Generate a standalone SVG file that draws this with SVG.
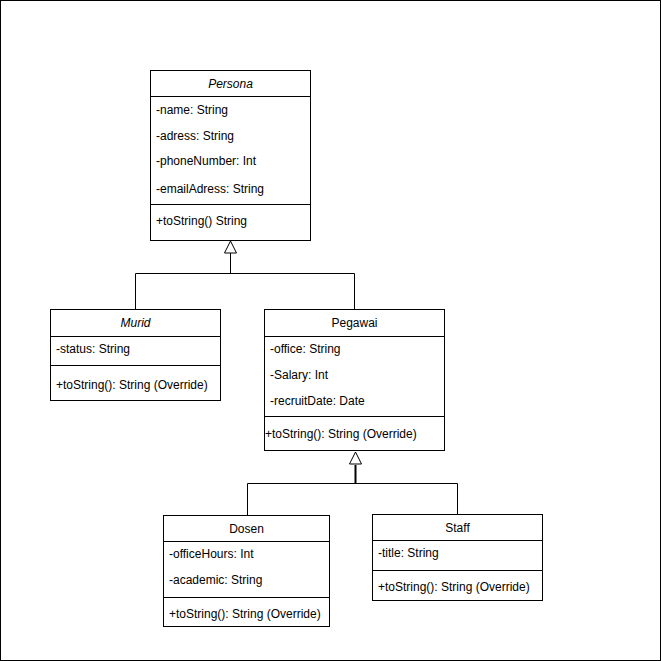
<svg xmlns="http://www.w3.org/2000/svg" width="661" height="661" viewBox="0 0 661 661">
<style>
.box{fill:#fff;stroke:#000;stroke-width:1}
.ln{stroke:#000;stroke-width:1;fill:none}
text{font-family:"Liberation Sans",Arial,sans-serif;font-size:12px;fill:#000}
.t{text-anchor:middle}
.i{font-style:italic}
.tri{fill:#fff;stroke:#000;stroke-width:1}
</style>
<rect x="0.5" y="0.5" width="660" height="660" fill="#fff" stroke="#000"/>
<g id="connectors">
<path class="ln" d="M230.5 253 V273.5 M135.5 309 V273.5 H354.5 V309"/>
<polygon class="tri" points="230.5,241 224.5,253 236.5,253"/>
<path class="ln" d="M355.5 465 V483" style="stroke-width:2"/>
<path class="ln" d="M247.5 515 V483.5 H457.5 V514"/>
<polygon class="tri" points="355.5,452 349.5,464 361.5,464"/>
</g>
<g id="Persona">
<rect class="box" x="150.5" y="70.5" width="160" height="170"/>
<path class="ln" d="M150.5 96.5 H310.5 M150.5 204.5 H310.5"/>
<text class="t i" x="230.5" y="88">Persona</text>
<text x="156" y="114">-name: String</text>
<text x="156" y="140">-adress: String</text>
<text x="156" y="165">-phoneNumber: Int</text>
<text x="156" y="193">-emailAdress: String</text>
<text x="156" y="225">+toString() String</text>
</g>
<g id="Murid">
<rect class="box" x="50.5" y="309.5" width="170" height="91"/>
<path class="ln" d="M50.5 336.5 H220.5 M50.5 365.5 H220.5"/>
<text class="t i" x="135.5" y="327">Murid</text>
<text x="56" y="353">-status: String</text>
<text x="56" y="389">+toString(): String (Override)</text>
</g>
<g id="Pegawai">
<rect class="box" x="264.5" y="309.5" width="180" height="141"/>
<path class="ln" d="M264.5 336.5 H444.5 M264.5 416.5 H444.5"/>
<text class="t" x="354.5" y="327">Pegawai</text>
<text x="270" y="353">-office: String</text>
<text x="270" y="379">-Salary: Int</text>
<text x="270" y="405">-recruitDate: Date</text>
<text x="265" y="438">+toString(): String (Override)</text>
</g>
<g id="Dosen">
<rect class="box" x="163.5" y="515.5" width="166" height="111"/>
<path class="ln" d="M163.5 541.5 H329.5 M163.5 597.5 H329.5"/>
<text class="t" x="246.5" y="533">Dosen</text>
<text x="169" y="558">-officeHours: Int</text>
<text x="169" y="584">-academic: String</text>
<text x="169" y="618">+toString(): String (Override)</text>
</g>
<g id="Staff">
<rect class="box" x="372.5" y="514.5" width="170" height="86"/>
<path class="ln" d="M372.5 540.5 H542.5 M372.5 570.5 H542.5"/>
<text class="t" x="457.5" y="532">Staff</text>
<text x="378" y="557">-title: String</text>
<text x="378" y="591">+toString(): String (Override)</text>
</g>
</svg>
